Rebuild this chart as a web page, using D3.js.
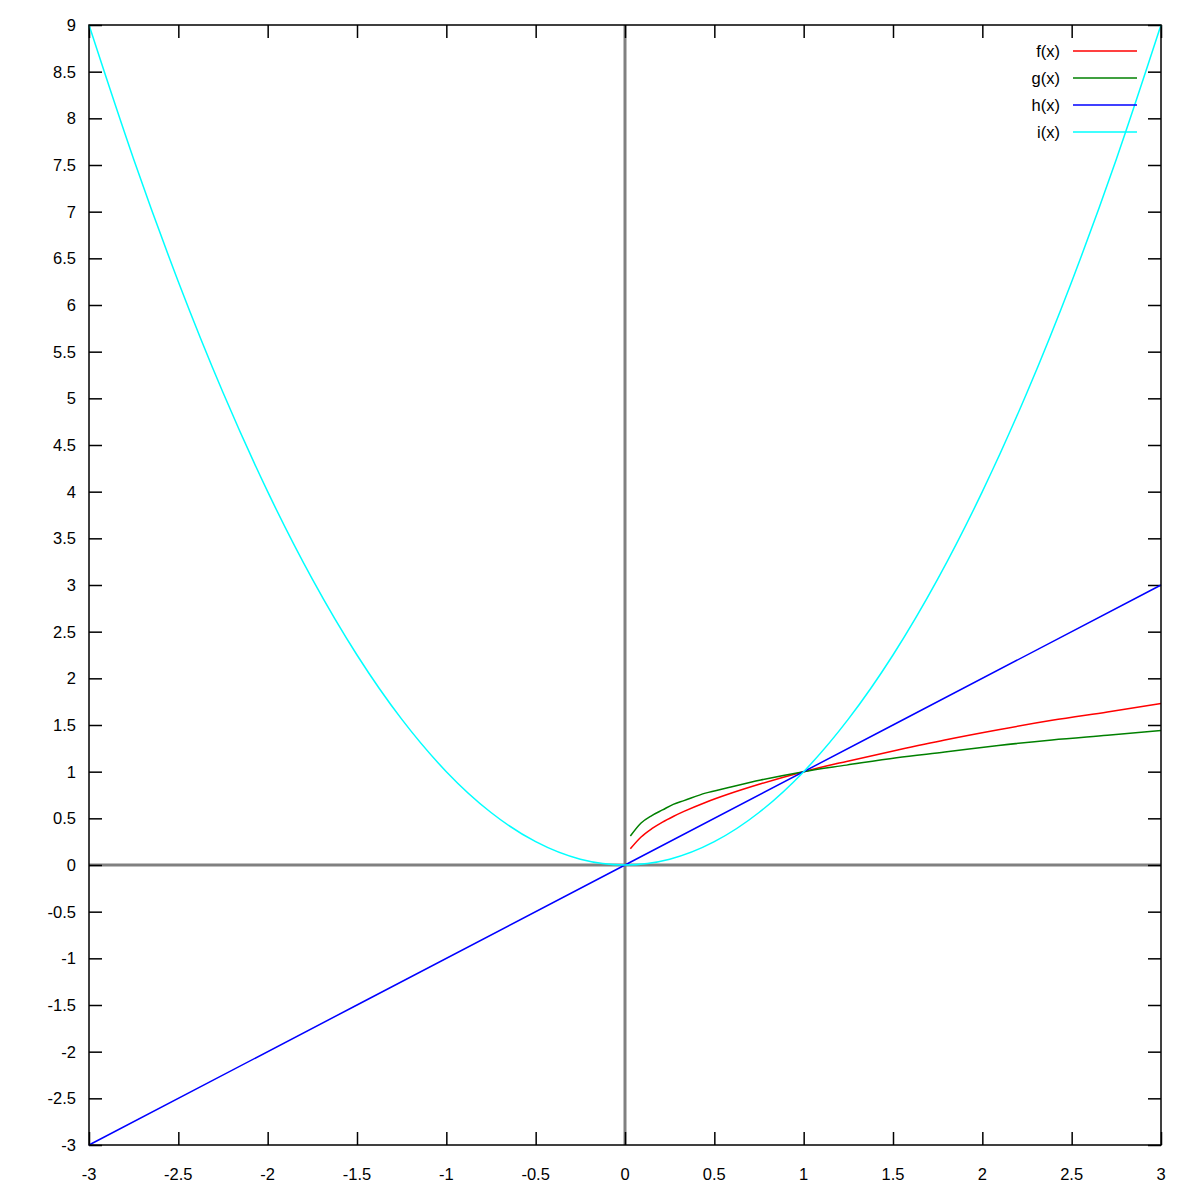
<!DOCTYPE html>
<html><head><meta charset="utf-8">
<script src="https://cdn.jsdelivr.net/npm/d3@7"></script>
<style>body{margin:0;background:#fff}</style>
</head><body>
<svg id="c" width="1200" height="1200"></svg>
<script>
const xTicks = [-3,-2.5,-2,-1.5,-1,-0.5,0,0.5,1,1.5,2,2.5,3];
const yTicks = [-3,-2.5,-2,-1.5,-1,-0.5,0,0.5,1,1.5,2,2.5,3,3.5,4,4.5,5,5.5,6,6.5,7,7.5,8,8.5,9];
const seriesNames = ["f(x)","g(x)","h(x)","i(x)"];
const seriesColors = ["#ff0000","#008000","#0000ff","#00ffff"];

const fX = [0.03,0.09,0.15,0.21,0.27,0.33,0.45,0.58,0.76,1.0,1.24,1.52,1.79,2.09,2.39,2.7,3.0];
const fY = [0.174,0.30,0.389,0.46,0.52,0.574,0.67,0.76,0.87,1.0,1.11,1.23,1.34,1.45,1.55,1.64,1.73];
const gX = [0.03,0.09,0.15,0.21,0.27,0.33,0.45,0.58,0.76,1.0,1.24,1.52,1.79,2.09,2.39,2.7,3.0];
const gY = [0.31,0.45,0.53,0.59,0.65,0.69,0.77,0.83,0.91,1.0,1.07,1.15,1.21,1.28,1.34,1.39,1.44];
const hX = [-3,0,3];
const hY = [-3,0,3];
const iX = [-3,-2.75,-2.5,-2.25,-2,-1.75,-1.5,-1.25,-1,-0.75,-0.5,-0.25,0,0.25,0.5,0.75,1,1.25,1.5,1.75,2,2.25,2.5,2.75,3];
const iY = [9,7.5625,6.25,5.0625,4,3.0625,2.25,1.5625,1,0.5625,0.25,0.0625,0.001,0.0625,0.25,0.5625,1,1.5625,2.25,3.0625,4,5.0625,6.25,7.5625,9];

const L=89, R=1161, T=25, B=1145;
const x = d3.scaleLinear().domain([-3,3]).range([L,R]);
const y = d3.scaleLinear().domain([-3,9]).range([B,T]);
const svg = d3.select("#c");
const font = "'Liberation Sans', Arial, sans-serif";
const fs = 16.5;

// zero axes
svg.append("line").attr("x1",x(0)).attr("x2",x(0)).attr("y1",T).attr("y2",B)
  .attr("stroke","#808080").attr("stroke-width",3);
svg.append("line").attr("x1",L).attr("x2",R).attr("y1",y(0)).attr("y2",y(0))
  .attr("stroke","#808080").attr("stroke-width",3);

const tl = 13;
const fmt = d => String(d);
const gB = svg.append("g").attr("transform",`translate(0,${B})`)
  .call(d3.axisTop(x).tickValues(xTicks).tickSize(tl).tickFormat(""));
const gT = svg.append("g").attr("transform",`translate(0,${T})`)
  .call(d3.axisBottom(x).tickValues(xTicks).tickSize(tl).tickFormat(""));
const gL = svg.append("g").attr("transform",`translate(${L},0)`)
  .call(d3.axisRight(y).tickValues(yTicks).tickSize(tl).tickFormat(""));
const gR = svg.append("g").attr("transform",`translate(${R},0)`)
  .call(d3.axisLeft(y).tickValues(yTicks).tickSize(tl).tickFormat(""));
[gB,gT,gL,gR].forEach(g=>{
  g.select(".domain").remove();
  g.selectAll(".tick line").attr("stroke","#000").attr("stroke-width",1.5);
});
svg.append("g").selectAll("text").data(xTicks).join("text")
  .attr("x",d=>x(d)).attr("y",1174).attr("text-anchor","middle").attr("dominant-baseline","central")
  .attr("font-family",font).attr("font-size",fs).text(fmt);
svg.append("g").selectAll("text").data(yTicks).join("text")
  .attr("x",76).attr("y",d=>y(d)).attr("text-anchor","end").attr("dominant-baseline","central")
  .attr("font-family",font).attr("font-size",fs).text(fmt);

const seriesData = [[fX,fY],[gX,gY],[hX,hY],[iX,iY]];
const line = d3.line().x(d=>x(d[0])).y(d=>y(d[1])).curve(d3.curveMonotoneX);
seriesData.forEach((s,k)=>{
  const pts = s[0].map((v,j)=>[v,s[1][j]]);
  svg.append("path").attr("d",line(pts)).attr("fill","none")
    .attr("stroke",seriesColors[k]).attr("stroke-width",1.5);
});

svg.append("rect").attr("x",L).attr("y",T).attr("width",R-L).attr("height",B-T)
  .attr("fill","none").attr("stroke","#000").attr("stroke-width",1.5);

seriesNames.forEach((n,k)=>{
  const ly = 51 + k*27;
  svg.append("text").attr("x",1060).attr("y",ly).attr("text-anchor","end")
    .attr("dominant-baseline","central").attr("font-family",font).attr("font-size",fs).text(n);
  svg.append("line").attr("x1",1073).attr("x2",1137).attr("y1",ly).attr("y2",ly)
    .attr("stroke",seriesColors[k]).attr("stroke-width",1.5);
});
</script>
</body></html>
